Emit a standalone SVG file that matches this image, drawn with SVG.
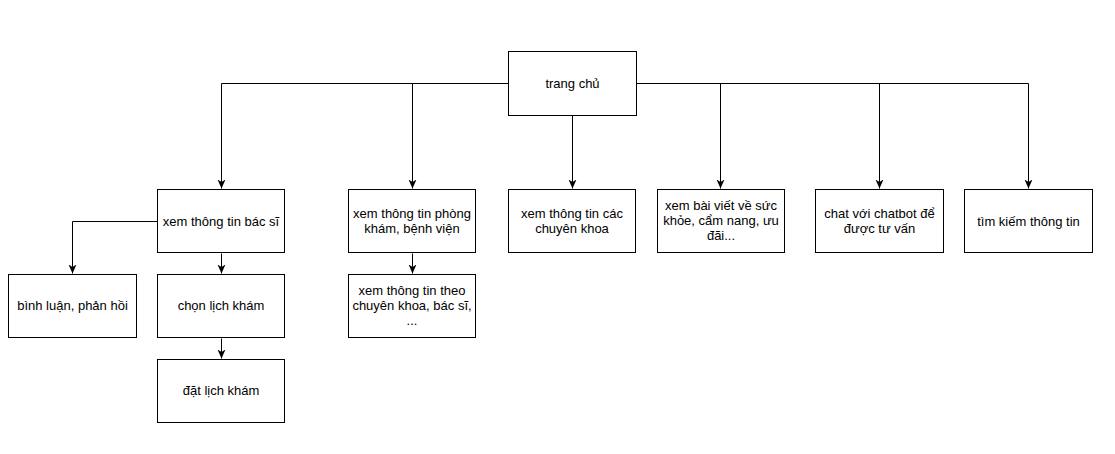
<svg xmlns="http://www.w3.org/2000/svg" width="1115" height="454" viewBox="0 0 1115 454">
<style>
.box{fill:#fff;stroke:#000;stroke-width:1}
.t{font-family:"Liberation Sans",Arial,sans-serif;font-size:13px;fill:#000;text-anchor:middle}
.c{fill:none;stroke:#000;stroke-width:1}
</style>
<defs>
<marker id="arr" markerUnits="userSpaceOnUse" markerWidth="10" markerHeight="10" refX="9" refY="4" orient="auto">
<path d="M0,0 L9,4 L0,8 L2.5,4 Z" fill="#000"/>
</marker>
</defs>
<rect width="1115" height="454" fill="#fff"/>
<g id="connectors">
<path class="c" d="M508.5,83.5 H221.5 V188.5" marker-end="url(#arr)"/>
<path class="c" d="M412.5,83.5 V188.5" marker-end="url(#arr)"/>
<path class="c" d="M572.5,115.5 V188.5" marker-end="url(#arr)"/>
<path class="c" d="M636.5,83.5 H1028.5 V188.5" marker-end="url(#arr)"/>
<path class="c" d="M720.5,83.5 V188.5" marker-end="url(#arr)"/>
<path class="c" d="M879.5,83.5 V188.5" marker-end="url(#arr)"/>
<path class="c" d="M157.5,221.5 H72.5 V273.5" marker-end="url(#arr)"/>
<path class="c" d="M221.5,253.5 V273.5" marker-end="url(#arr)"/>
<path class="c" d="M221.5,338.5 V358.5" marker-end="url(#arr)"/>
<path class="c" d="M412.5,253.5 V273.5" marker-end="url(#arr)"/>
</g>
<g id="n-home"><rect class="box" x="508.5" y="51.5" width="128" height="64"/><text class="t" x="572.5" y="87.5">trang chủ</text></g>
<g id="n-bacsi"><rect class="box" x="157.5" y="189.5" width="127" height="63"/><text class="t" x="221" y="225.5">xem thông tin bác sĩ</text></g>
<g id="n-phongkham"><rect class="box" x="348.5" y="189.5" width="127" height="63"/><text class="t" x="412" y="217.5">xem thông tin phòng</text><text class="t" x="412" y="232.5">khám, bệnh viện</text></g>
<g id="n-chuyenkhoa"><rect class="box" x="508.5" y="189.5" width="127" height="63"/><text class="t" x="572" y="217.5">xem thông tin các</text><text class="t" x="572" y="232.5">chuyên khoa</text></g>
<g id="n-baiviet"><rect class="box" x="657.5" y="189.5" width="127" height="63"/><text class="t" x="721" y="210">xem bài viết về sức</text><text class="t" x="721" y="225">khỏe, cẩm nang, ưu</text><text class="t" x="721" y="240">đãi...</text></g>
<g id="n-chatbot"><rect class="box" x="815.5" y="189.5" width="128" height="63"/><text class="t" x="879.5" y="217.5">chat với chatbot để</text><text class="t" x="879.5" y="232.5">được tư vấn</text></g>
<g id="n-timkiem"><rect class="box" x="964.5" y="189.5" width="128" height="63"/><text class="t" x="1028.5" y="225.5">tìm kiếm thông tin</text></g>
<g id="n-binhluan"><rect class="box" x="8.5" y="274.5" width="128" height="63"/><text class="t" x="72.5" y="310">bình luận, phản hồi</text></g>
<g id="n-chonlich"><rect class="box" x="157.5" y="274.5" width="127" height="63"/><text class="t" x="221" y="310">chọn lịch khám</text></g>
<g id="n-datlich"><rect class="box" x="157.5" y="359.5" width="127" height="63"/><text class="t" x="221" y="395">đặt lịch khám</text></g>
<g id="n-theo"><rect class="box" x="348.5" y="274.5" width="127" height="63"/><text class="t" x="412" y="295">xem thông tin theo</text><text class="t" x="412" y="310">chuyên khoa, bác sĩ,</text><text class="t" x="412" y="325">...</text></g>
</svg>
